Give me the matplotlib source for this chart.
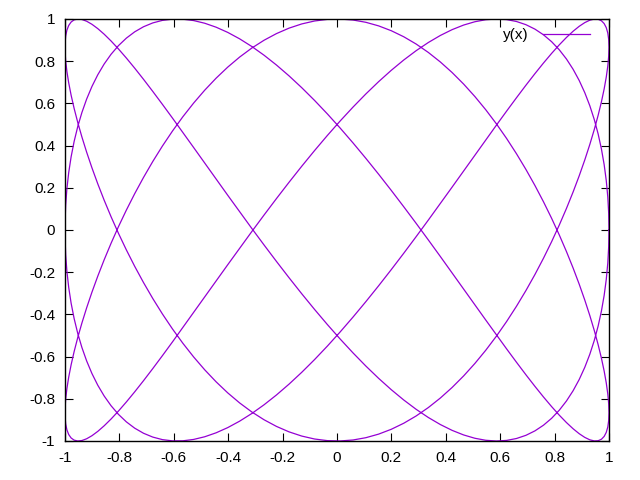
import numpy as np
import matplotlib
matplotlib.use('Agg')
import matplotlib.pyplot as plt

# Lissajous curve parameters
x_freq = 3        # touches on the left/right edges
y_freq = 5        # touches on the top/bottom edges
t_start = 0.0
t_end = 2 * np.pi
n_samples = 400
series_label = 'y(x)'
xticks = [-1, -0.8, -0.6, -0.4, -0.2, 0, 0.2, 0.4, 0.6, 0.8, 1]
yticks = [-1, -0.8, -0.6, -0.4, -0.2, 0, 0.2, 0.4, 0.6, 0.8, 1]

plt.rcParams['font.family'] = ['Liberation Sans', 'DejaVu Sans']
plt.rcParams['font.size'] = 11

t = np.linspace(t_start, t_end, n_samples)
x = np.cos(x_freq * t)
y = np.sin(y_freq * t)

fig = plt.figure(figsize=(6.4, 4.8), dpi=100)
ax = fig.add_axes([65 / 640, 1 - 441 / 480, 544 / 640, 422 / 480])

ax.plot(x, y, color='#9400D3', lw=0.9, label=series_label)

ax.set_xlim(-1, 1)
ax.set_ylim(-1, 1)
ax.set_xticks(xticks)
ax.set_yticks(yticks)
ax.set_xticklabels(['%g' % v for v in xticks])
ax.set_yticklabels(['%g' % v for v in yticks])
ax.tick_params(direction='in', length=6, width=0.8, top=True, right=True,
               pad=7, labelsize=11)
for s in ax.spines.values():
    s.set_linewidth(1.0)

# legend: text left of the line sample, top right inside the plot
ax.legend(loc='upper right', frameon=False, markerfirst=False,
          handlelength=3.1, handletextpad=0.9, borderpad=0, borderaxespad=0,
          bbox_to_anchor=(590 / 640, 1 - 28 / 480),
          bbox_transform=fig.transFigure, fontsize=11)

fig.savefig('out.png', dpi=100)
